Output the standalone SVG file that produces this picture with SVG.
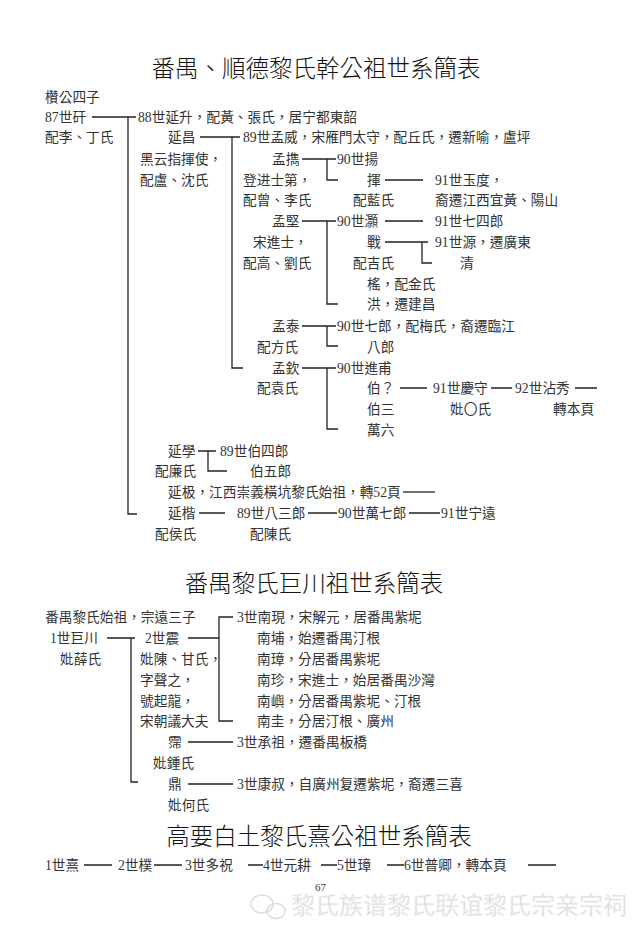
<svg xmlns="http://www.w3.org/2000/svg" width="640" height="935" viewBox="0 0 640 935">
<style>
text{font-family:"Liberation Serif","Noto Sans CJK TC",serif;fill:#333;font-size:13.7px}
.t{font-size:23.5px;fill:#111;text-anchor:middle;font-weight:300}
.pg{font-size:11px}
.wm{font-size:24px;fill:#dcdcdc;stroke:#f4f4f4;stroke-width:0.5}
.c path{fill:none;stroke:#222;stroke-width:1.3}
</style>
<rect width="640" height="935" fill="#fff"/>
<text class="t" x="316" y="77">番禺、順德黎氏幹公祖世系簡表</text>
<text class="t" x="314" y="592">番禺黎氏巨川祖世系簡表</text>
<text class="t" x="319" y="845">高要白土黎氏熹公祖世系簡表</text>

<g id="connectors" class="c">
<path d="M92,117H136M128,117V514H137"/>
<path d="M200,137H240M232,137V368H243"/>
<path d="M302,159H336M327,159V180H338"/>
<path d="M385,180H423"/>
<path d="M302,221H336M327,221V304H338"/>
<path d="M385,221H423"/>
<path d="M385,242H428M422,242V263H432"/>
<path d="M302,326H336M327,326V346H338"/>
<path d="M302,368H336M327,368V429H338"/>
<path d="M400,388H427M491,388H512M575,388H597"/>
<path d="M198,451H216M208,451V471H227"/>
<path d="M403,492H435"/>
<path d="M199,513H225M308,513H337M409,513H440"/>
<path d="M107,638H135M131,638V782H138"/>
<path d="M188,638H219M233,617H219V721H233"/>
<path d="M188,742H233"/>
<path d="M188,784H233"/>
<path d="M84,865H112M154,865H182M248,865H263M321,865H337M387,865H404M528,865H556"/>
</g>

<g id="n-root"><text x="45" y="102">欑公四子</text></g>
<g id="n87"><text x="45" y="122">87世矸</text><text x="45" y="142">配李、丁氏</text></g>
<g id="n88-yansheng"><text x="138" y="122">88世延升，配黃、張氏，居宁都東韶</text></g>
<g id="n-yanchang"><text x="168" y="142">延昌</text><text x="140" y="164">黑云指揮使，</text><text x="140" y="185">配盧、沈氏</text></g>
<g id="n89-mengwei"><text x="243" y="142">89世孟威，宋雁門太守，配丘氏，遷新喻，盧坪</text></g>
<g id="n-mengxie"><text x="272" y="164">孟擕</text><text x="243" y="185">登进士第，</text><text x="243" y="205">配曾、李氏</text></g>
<g id="n90-yang"><text x="337" y="164">90世揚</text></g>
<g id="n-hui"><text x="367" y="185">揮</text><text x="353" y="205">配藍氏</text></g>
<g id="n91-yudu"><text x="435" y="185">91世玉度，</text><text x="435" y="205">裔遷江西宜黃、陽山</text></g>
<g id="n-mengjian"><text x="272" y="226">孟堅</text><text x="253" y="247">宋進士，</text><text x="243" y="268">配高、劉氏</text></g>
<g id="n90-hao"><text x="337" y="226">90世灝</text></g>
<g id="n91-qisilang"><text x="435" y="226">91世七四郎</text></g>
<g id="n-zhan"><text x="367" y="247">戰</text><text x="353" y="268">配吉氏</text></g>
<g id="n91-yuan"><text x="435" y="247">91世源，遷廣東</text></g>
<g id="n-qing"><text x="460" y="268">清</text></g>
<g id="n-yao"><text x="367" y="289">榣，配金氏</text></g>
<g id="n-hong"><text x="367" y="309">洪，遷建昌</text></g>
<g id="n-mengtai"><text x="272" y="331">孟泰</text><text x="257" y="352">配方氏</text></g>
<g id="n90-qilang"><text x="337" y="331">90世七郎，配梅氏，裔遷臨江</text></g>
<g id="n-balang"><text x="367" y="352">八郎</text></g>
<g id="n-mengqin"><text x="272" y="373">孟欽</text><text x="257" y="393">配袁氏</text></g>
<g id="n90-jinfu"><text x="337" y="373">90世進甫</text></g>
<g id="n-bo"><text x="367" y="393">伯？</text></g>
<g id="n91-qingshou"><text x="433" y="393">91世慶守</text><text x="450" y="414">妣〇氏</text></g>
<g id="n92-zhanxiu"><text x="515" y="393">92世沾秀</text><text x="553" y="414">轉本頁</text></g>
<g id="n-bosan"><text x="367" y="414">伯三</text></g>
<g id="n-wanliu"><text x="367" y="435">萬六</text></g>
<g id="n-yanxue"><text x="168" y="456">延學</text><text x="155" y="476">配廉氏</text></g>
<g id="n89-bosilang"><text x="220" y="456">89世伯四郎</text></g>
<g id="n-bowulang"><text x="250" y="476">伯五郎</text></g>
<g id="n-yanji"><text x="168" y="497">延极，江西崇義橫坑黎氏始祖，轉52頁</text></g>
<g id="n-yankai"><text x="168" y="518">延楷</text><text x="155" y="539">配侯氏</text></g>
<g id="n89-basanlang"><text x="237" y="518">89世八三郎</text><text x="250" y="539">配陳氏</text></g>
<g id="n90-wanqilang"><text x="338" y="518">90世萬七郎</text></g>
<g id="n91-ningyuan"><text x="441" y="518">91世宁遠</text></g>

<g id="s2-root"><text x="45" y="622">番禺黎氏始祖，宗遠三子</text></g>
<g id="s2-jucuan"><text x="50" y="643">1世巨川</text><text x="60" y="664">妣薛氏</text></g>
<g id="s2-zhen"><text x="145" y="643">2世震</text><text x="140" y="664">妣陳、甘氏，</text><text x="140" y="685">字聲之，</text><text x="140" y="706">號起龍，</text><text x="140" y="726">宋朝議大夫</text></g>
<g id="s2-nanxian"><text x="237" y="622">3世南現，宋解元，居番禺紫坭</text></g>
<g id="s2-nanbu"><text x="257" y="643">南埔，始遷番禺汀根</text></g>
<g id="s2-nanzhang"><text x="257" y="664">南璋，分居番禺紫坭</text></g>
<g id="s2-nanzhen"><text x="257" y="685">南珍，宋進士，始居番禺沙灣</text></g>
<g id="s2-nanyu"><text x="257" y="706">南嶼，分居番禺紫坭、汀根</text></g>
<g id="s2-nangui"><text x="257" y="726">南圭，分居汀根、廣州</text></g>
<g id="s2-pei"><text x="168" y="747">霈</text><text x="153" y="768">妣鍾氏</text></g>
<g id="s2-chengzu"><text x="237" y="747">3世承祖，遷番禺板橋</text></g>
<g id="s2-ding"><text x="168" y="789">鼎</text><text x="168" y="810">妣何氏</text></g>
<g id="s2-kangshu"><text x="237" y="789">3世康叔，自廣州复遷紫坭，裔遷三喜</text></g>

<g id="s3-1"><text x="45" y="870">1世熹</text></g>
<g id="s3-2"><text x="118" y="870">2世樸</text></g>
<g id="s3-3"><text x="185" y="870">3世多祝</text></g>
<g id="s3-4"><text x="263" y="870">4世元耕</text></g>
<g id="s3-5"><text x="337" y="870">5世璋</text></g>
<g id="s3-6"><text x="404" y="870">6世普卿，轉本頁</text></g>

<text class="pg" x="315" y="891">67</text>
<g id="watermark">
<ellipse cx="262" cy="904" rx="11" ry="9" fill="none" stroke="#dcdcdc" stroke-width="1.5"/>
<ellipse cx="276" cy="911" rx="9" ry="7.5" fill="none" stroke="#dcdcdc" stroke-width="1.5"/>
<text class="wm" x="291" y="914">黎氏族谱黎氏联谊黎氏宗亲宗祠</text>
</g>
</svg>
